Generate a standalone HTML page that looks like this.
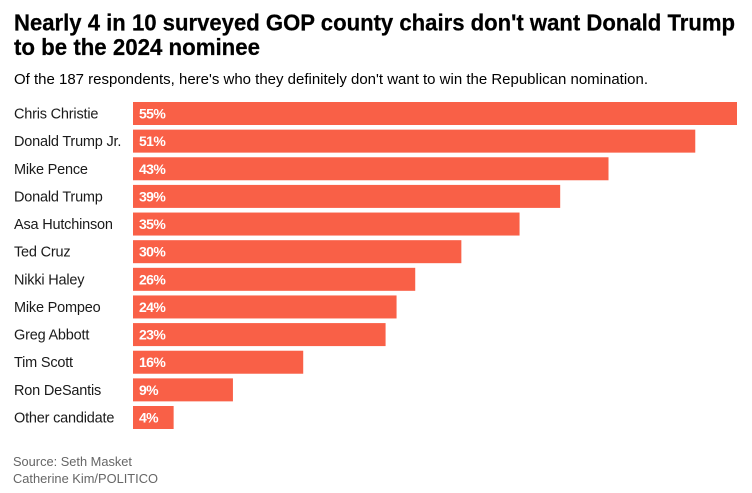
<!DOCTYPE html>
<html lang="en">
<head>
<meta charset="utf-8">
<title>GOP county chairs chart</title>
<style>
html,body{margin:0;padding:0;background:#fff;width:752px;height:493px;overflow:hidden}
svg{display:block}
text{font-family:"Liberation Sans",sans-serif}
</style>
</head>
<body>
<svg id="chart" width="752" height="493" viewBox="0 0 752 493" xmlns="http://www.w3.org/2000/svg">
<rect width="752" height="493" fill="#fff"/>
<text x="14" y="30.5" font-size="23" font-weight="700" fill="#000" stroke="#000" stroke-width="0.25" textLength="721" lengthAdjust="spacingAndGlyphs">Nearly 4 in 10 surveyed GOP county chairs don't want Donald Trump</text>
<text x="14" y="55" font-size="23" font-weight="700" fill="#000" stroke="#000" stroke-width="0.25" textLength="246" lengthAdjust="spacingAndGlyphs">to be the 2024 nominee</text>
<text x="14" y="84" font-size="14.5" fill="#000" textLength="634" lengthAdjust="spacingAndGlyphs">Of the 187 respondents, here's who they definitely don't want to win the Republican nomination.</text>
<g id="rows"></g>
<text x="13" y="466" font-size="12.5" font-weight="400" fill="#666" textLength="119" lengthAdjust="spacingAndGlyphs">Source: Seth Masket</text>
<text x="13" y="483" font-size="12.5" font-weight="400" fill="#666" textLength="145" lengthAdjust="spacingAndGlyphs">Catherine Kim/POLITICO</text>
</svg>
<script>
const categories = ["Chris Christie","Donald Trump Jr.","Mike Pence","Donald Trump","Asa Hutchinson","Ted Cruz","Nikki Haley","Mike Pompeo","Greg Abbott","Tim Scott","Ron DeSantis","Other candidate"];
const values = [55,51.2,43.3,38.9,35.2,29.9,25.7,24,23,15.5,9.1,3.7];

const NS = "http://www.w3.org/2000/svg";
const rows = document.getElementById("rows");
const xScale = v => v * (604 / 55);
const yScale = i => 102 + i * (304 / 11);

categories.forEach((name, i) => {
  const y = yScale(i);

  const label = document.createElementNS(NS, "text");
  
  
  label.setAttribute("x", 14);
  label.setAttribute("y", y + 16.5);
  label.setAttribute("font-size", "14.5");
  label.setAttribute("letter-spacing", "-0.2");
  label.setAttribute("fill", "#1a1a1a");
  label.textContent = name;
  rows.appendChild(label);

  const bar = document.createElementNS(NS, "rect");
  
  
  bar.setAttribute("x", 133);
  bar.setAttribute("y", y);
  bar.setAttribute("width", xScale(values[i]));
  bar.setAttribute("height", 23);
  bar.setAttribute("fill", "#f96047");
  rows.appendChild(bar);

  const val = document.createElementNS(NS, "text");
  
  
  val.setAttribute("x", 139);
  val.setAttribute("y", y + 16.5);
  val.setAttribute("font-size", "14");
  val.setAttribute("letter-spacing", "-0.6");
  val.setAttribute("font-weight", "700");
  val.setAttribute("fill", "#fff");
  val.textContent = Math.round(values[i]) + "%";
  rows.appendChild(val);
});
</script>
</body>
</html>
